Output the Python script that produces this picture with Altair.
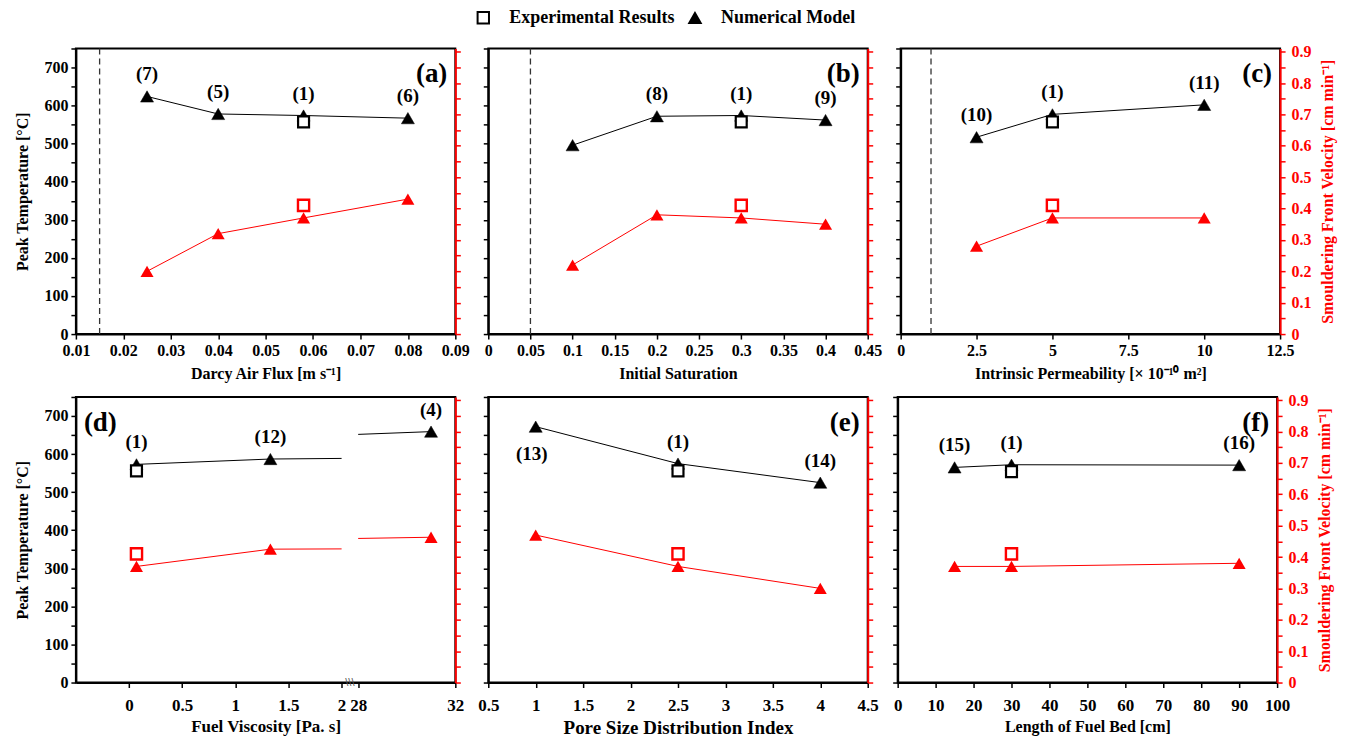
import altair as alt
import pandas as pd

FONT = "Liberation Serif"
RED = "#ff0000"
BLACK = "#000000"
SERIES = ["Experimental Results", "Numerical Model"]
W, H = 380, 286

T_DOMAIN = [0, 750]
T_TICKS = list(range(0, 751, 50))
V_DOMAIN = [0, 0.91]
V_TICKS = [round(0.05 * i, 2) for i in range(19)]

# ---------------- data ----------------
# (a) Darcy air flux
a_x = [0.025, 0.04, 0.058, 0.08]
a_temp = [624, 578, 574, 567]
a_vel = [0.20, 0.32, 0.37, 0.43]
a_case = ["(7)", "(5)", "(1)", "(6)"]
a_exp_x, a_exp_temp, a_exp_vel = [0.058], [557], [0.41]
a_limit = [0.015]

# (b) initial saturation
b_x = [0.1, 0.2, 0.3, 0.4]
b_temp = [496, 572, 574, 562]
b_vel = [0.22, 0.38, 0.37, 0.35]
b_case = ["", "(8)", "(1)", "(9)"]
b_exp_x, b_exp_temp, b_exp_vel = [0.3], [557], [0.41]
b_limit = [0.05]

# (c) intrinsic permeability
c_x = [2.5, 5, 10]
c_temp = [517, 577, 602]
c_vel = [0.28, 0.37, 0.37]
c_case = ["(10)", "(1)", "(11)"]
c_exp_x, c_exp_temp, c_exp_vel = [5], [557], [0.41]
c_limit = [1.0]

# (d) fuel viscosity (broken axis 2 -> 28)
d_x = [0.07, 1.33, 31]
d_temp = [573, 587, 659]
d_vel = [0.37, 0.425, 0.463]
d_case = ["(1)", "(12)", "(4)"]
d_exp_x, d_exp_temp, d_exp_vel = [0.07], [556], [0.41]

# (e) pore size distribution index
e_x = [1, 2.5, 4]
e_temp = [672, 575, 525]
e_vel = [0.47, 0.37, 0.30]
e_case = ["(13)", "(1)", "(14)"]
e_exp_x, e_exp_temp, e_exp_vel = [2.5], [556], [0.41]

# (f) length of fuel bed
f_x = [15, 30, 90]
f_temp = [565, 572, 571]
f_vel = [0.37, 0.37, 0.38]
f_case = ["(15)", "(1)", "(16)"]
f_exp_x, f_exp_temp, f_exp_vel = [30], [554], [0.41]

# ---------------- broken-axis mapping for (d) ----------------
BRK_LO, BRK_HI = 2.0, 28.0
POS_HI, K = 2.156, 0.2285


def ident(v):
    return v


def bpos(v):
    return v if v <= BRK_LO else POS_HI + (v - BRK_HI) * K


def line_frame(xs, ys, col, to_pos, broken):
    rows = []
    seg = 0
    for i, (x, y) in enumerate(zip(xs, ys)):
        if broken and i > 0 and xs[i - 1] <= BRK_LO and x >= BRK_HI:
            x0, y0 = xs[i - 1], ys[i - 1]
            y_lo = y0 + (y - y0) * (BRK_LO - x0) / (x - x0)
            y_hi = y0 + (y - y0) * (BRK_HI - x0) / (x - x0)
            rows.append({"x": to_pos(BRK_LO), col: y_lo, "seg": seg})
            seg += 1
            rows.append({"x": to_pos(BRK_HI), col: y_hi, "seg": seg})
        rows.append({"x": to_pos(x), col: y, "seg": seg})
    return pd.DataFrame(rows)


LEGEND = alt.Legend(
    orient="none", legendX=399, legendY=-40, direction="horizontal", title=None,
    labelFont=FONT, labelFontWeight="bold", labelFontSize=18, labelColor=BLACK, labelLimit=400,
    symbolSize=130, symbolStrokeWidth=2, columnPadding=10, labelOffset=17,
)
SHAPE = alt.Shape("series:N", scale=alt.Scale(domain=SERIES, range=["square", "triangle-up"]), legend=LEGEND)
FILL = alt.Fill("series:N", scale=alt.Scale(domain=SERIES, range=["white", BLACK]), legend=LEGEND)
STROKE = alt.Stroke("series:N", scale=alt.Scale(domain=SERIES, range=[BLACK, BLACK]), legend=LEGEND)

NUM = "datum.value + ''"


def panel(xs, temps, vels, cases, exp_x, exp_t, exp_v, limit, xdomain, xticks,
          xtitle, xtitle_size, xlabel_size, xlabel_pad, xtitle_pad, letter, letter_left,
          show_left, show_right, below=(), broken=False, label_expr=NUM, xfmt=None):
    to_pos = bpos if broken else ident
    xscale = alt.Scale(domain=xdomain, nice=False, zero=False)
    ax = dict(values=xticks, title=xtitle, titleFontSize=xtitle_size, labelFontSize=xlabel_size,
              labelPadding=xlabel_pad, titlePadding=xtitle_pad, labelFlush=False,
              labelOverlap=False, labelExpr=label_expr)
    if xfmt:
        ax["format"] = xfmt
    X = alt.X("x:Q", scale=xscale, axis=alt.Axis(**ax))

    t_scale = alt.Scale(domain=T_DOMAIN, nice=False, zero=False)
    v_scale = alt.Scale(domain=V_DOMAIN, nice=False, zero=False)
    left_axis = alt.Axis(
        values=T_TICKS, labels=show_left,
        labelExpr="datum.value % 100 == 0 ? datum.value + '' : ''",
        title="Peak Temperature [°C]" if show_left else None, titlePadding=13,
    )
    right_axis = alt.Axis(
        orient="right", values=V_TICKS, labels=show_right,
        labelExpr="abs(datum.value * 10 - round(datum.value * 10)) < 0.001 ? datum.value + '' : ''",
        title="Smouldering Front Velocity [cm min⁻¹]" if show_right else None,
        titleAngle=270, titleBaseline="top", titlePadding=8, labelPadding=6,
        domainColor=RED, tickColor=RED, labelColor=RED, titleColor=RED,
    )
    YL = alt.Y("temp:Q", scale=t_scale, axis=left_axis)
    YR = alt.Y("vel:Q", scale=v_scale, axis=right_axis)

    model = pd.DataFrame({
        "x": [to_pos(v) for v in xs], "temp": temps, "vel": vels, "case": cases,
        "side": ["below" if c in below else "above" for c in cases],
        "series": SERIES[1],
    })
    exp = pd.DataFrame({"x": [to_pos(v) for v in exp_x], "temp": exp_t, "vel": exp_v,
                        "series": SERIES[0]})

    left = [
        alt.Chart(line_frame(xs, temps, "temp", to_pos, broken)).mark_line(
            color=BLACK, strokeWidth=1).encode(x=X, y=YL, detail="seg:N"),
    ]
    if limit:
        left.append(alt.Chart(pd.DataFrame({"x": limit})).mark_rule(
            color="#333333", strokeDash=[6, 4], strokeWidth=1.3).encode(x=X))
    if broken:
        left.append(alt.Chart(pd.DataFrame({"x": [(BRK_LO + POS_HI) / 2], "temp": [0]})).mark_text(
            text="\\\\\\", fontSize=11, color="#555555", baseline="middle").encode(x=X, y=YL))
    left += [
        alt.Chart(model).mark_point(filled=True, size=170, strokeWidth=0.5, opacity=1)
        .encode(x=X, y=YL, shape=SHAPE, fill=FILL, stroke=STROKE),
        alt.Chart(exp).mark_point(filled=True, size=120, strokeWidth=2.2, opacity=1)
        .encode(x=X, y=YL, shape=SHAPE, fill=FILL, stroke=STROKE),
        alt.Chart(model).transform_filter("datum.side == 'above'").mark_text(
            font=FONT, fontWeight="bold", fontSize=19, dy=-22, color=BLACK)
        .encode(x=X, y=YL, text="case:N"),
        alt.Chart(model).transform_filter("datum.side == 'below'").mark_text(
            font=FONT, fontWeight="bold", fontSize=19, dy=27, dx=-4, color=BLACK)
        .encode(x=X, y=YL, text="case:N"),
    ]
    right = [
        alt.Chart(line_frame(xs, vels, "vel", to_pos, broken)).mark_line(
            color=RED, strokeWidth=1).encode(x=X, y=YR, detail="seg:N"),
        alt.Chart(model).mark_point(shape="triangle-up", filled=True, color=RED, size=170, opacity=1)
        .encode(x=X, y=YR),
        alt.Chart(exp).mark_point(shape="square", filled=True, fill="white", stroke=RED,
                                  strokeWidth=2.4, size=125, opacity=1)
        .encode(x=X, y=YR),
    ]
    tag = alt.Chart(pd.DataFrame({"t": [letter]})).mark_text(
        font=FONT, fontWeight="bold", fontSize=27, color=BLACK, baseline="middle",
        align="left" if letter_left else "right",
    ).encode(text="t:N", x=alt.value(8 if letter_left else W - 8), y=alt.value(26))

    return alt.layer(alt.layer(*left), alt.layer(*right), tag).resolve_scale(
        y="independent").properties(width=W, height=H)


pa = panel(a_x, a_temp, a_vel, a_case, a_exp_x, a_exp_temp, a_exp_vel, a_limit,
           [0.01, 0.09], [round(0.01 * i, 2) for i in range(1, 10)],
           "Darcy Air Flux [m s⁻¹]", 16, 16, 3, 8, "(a)", False, True, False,
           label_expr="datum.label", xfmt=".2f")
pb = panel(b_x, b_temp, b_vel, b_case, b_exp_x, b_exp_temp, b_exp_vel, b_limit,
           [0, 0.45], [round(0.05 * i, 2) for i in range(10)],
           "Initial Saturation", 16, 16, 3, 8, "(b)", False, False, False)
pc = panel(c_x, c_temp, c_vel, c_case, c_exp_x, c_exp_temp, c_exp_vel, c_limit,
           [0, 12.5], [0, 2.5, 5, 7.5, 10, 12.5],
           "Intrinsic Permeability [× 10⁻¹⁰ m²]", 16, 16, 3, 8, "(c)", False, False, True)
pd_ = panel(d_x, d_temp, d_vel, d_case, d_exp_x, d_exp_temp, d_exp_vel, [],
            [-0.5, bpos(32)], [0, 0.5, 1, 1.5, 2, bpos(28), bpos(32)],
            "Fuel Viscosity [Pa. s]", 17, 17, 10, 5, "(d)", True, True, False, broken=True,
            label_expr="datum.value > 3 ? '32' : datum.value > 2.1 ? ' 28' : datum.value + ''")
pe = panel(e_x, e_temp, e_vel, e_case, e_exp_x, e_exp_temp, e_exp_vel, [],
           [0.5, 4.5], [0.5, 1, 1.5, 2, 2.5, 3, 3.5, 4, 4.5],
           "Pore Size Distribution Index", 19, 17, 10, 5, "(e)", False, False, False, below=("(13)",))
pf = panel(f_x, f_temp, f_vel, f_case, f_exp_x, f_exp_temp, f_exp_vel, [],
           [0, 100], list(range(0, 101, 10)),
           "Length of Fuel Bed [cm]", 16, 17, 10, 5, "(f)", False, False, True)

row1 = alt.hconcat(pa, pb, pc, spacing=11)
row2 = alt.hconcat(pd_, pe, pf, spacing=11)

chart = (
    alt.vconcat(row1, row2, spacing=8)
    .resolve_scale(shape="shared", fill="shared", stroke="shared")
    .resolve_legend(shape="shared", fill="shared", stroke="shared")
    .properties(padding={"left": 6, "top": 0, "right": 5, "bottom": 2})
    .configure_view(stroke=BLACK, strokeWidth=2)
    .configure_axis(
        labelFont=FONT, labelFontWeight="bold", labelFontSize=16, labelColor=BLACK,
        titleFont=FONT, titleFontWeight="bold", titleFontSize=16, titleColor=BLACK,
        domainColor=BLACK, domainWidth=2, tickColor=BLACK, tickWidth=1.5, tickSize=5,
        grid=False, labelPadding=3, titlePadding=8,
    )
)

chart.save("out.html", embed_options={"renderer": "svg", "actions": False})
